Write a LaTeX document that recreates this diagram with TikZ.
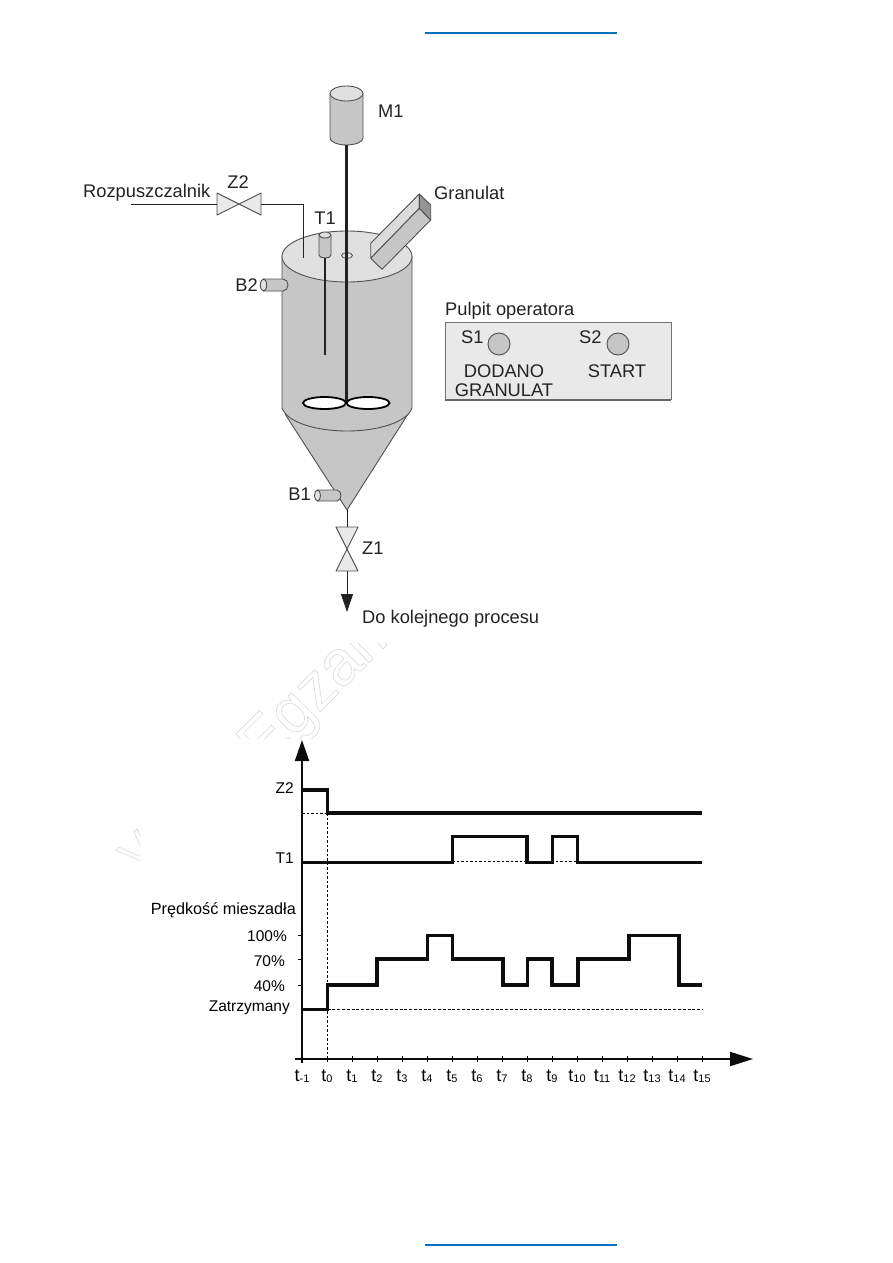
\documentclass[tikz,border=0pt]{standalone}
\usepackage{fontspec}
\setmainfont{Liberation Sans}
\usetikzlibrary{arrows.meta,calc}
\definecolor{bluebar}{HTML}{0070C0}
\definecolor{ink}{HTML}{222222}
\definecolor{edge}{HTML}{505050}
\definecolor{bodyg}{HTML}{C6C6C6}
\definecolor{lidg}{HTML}{E0E0E0}
\definecolor{panelg}{HTML}{E9E9E9}
\definecolor{wm}{HTML}{D4D4D4}
\newcommand{\tlab}[1]{{\fontsize{18}{18}\selectfont t}{\fontsize{11}{11}\selectfont\raisebox{-1.5pt}{#1}}}
\newcommand{\wmtext}[1]{\special{pdf:code 1 Tr 0.5 w}#1\special{pdf:code 0 Tr}}
\tikzset{
  big/.style={font=\fontsize{18.3}{20}\selectfont,text=ink,inner sep=0pt},
  small/.style={font=\fontsize{15.5}{17}\selectfont,text=black,inner sep=0pt},
  part/.style={draw=edge,line width=0.9pt,line join=round},
  pipe/.style={draw=ink,line width=0.9pt},
  rod/.style={draw=ink,line width=2.6pt},
  signal/.style={draw=black!95,line width=3.6pt,line join=miter},
  axisline/.style={draw=black!95,line width=2pt},
  guide/.style={draw=black,line width=0.8pt,dash pattern=on 2.5pt off 2pt},
  bluebarline/.style={draw=bluebar,line width=2pt},
  wmark/.style={font=\fontsize{64}{64}\selectfont,text=wm,inner sep=0pt,rotate=45,anchor=base west},
}
\begin{document}
\begin{tikzpicture}[x=1pt,y=-1pt]
\useasboundingbox (0,0) rectangle (893,1263);
\fill[white] (0,0) rectangle (893,1263);
% header and footer bars
\coordinate (ha) at (425,33); \coordinate (hb) at (617,33);
\coordinate (fa) at (425,1245); \coordinate (fb) at (617,1245);
\draw[bluebarline] (ha) -- (hb);
\draw[bluebarline] (fa) -- (fb);
% watermark
\begin{scope}
\clip (140,643) rectangle (450,738);
\node[wmark] (wma) at (263,769) {\wmtext{Egzam}};
\end{scope}
\begin{scope}
\clip (90,800) rectangle (140,880);
\node[wmark,font=\fontsize{46}{46}\selectfont] (wmb) at (138,873) {\wmtext{V}};
\end{scope}
% motor
\path[part,fill=bodyg] (330,93.5) -- (330,138) .. controls (330,142) and (338,145) .. (346.5,145) .. controls (355,145) and (363,142) .. (363,138) -- (363,93.5) -- cycle;
\path[part,fill=lidg] (346.5,93.5) ellipse [x radius=16.5,y radius=7.5];
\node[big,anchor=west] (m1) at (378,111) {M1};
% cone and tank body
\path[part,fill=bodyg] (285,414) -- (347,510) -- (408,414) -- cycle;
\path[part,fill=bodyg] (282,256) -- (282,408) .. controls (287,422) and (315,431) .. (347,431) .. controls (379,431) and (407,422) .. (412,408) -- (412,256) -- cycle;
% lid
\path[part,fill=lidg] (347,256.5) ellipse [x radius=65,y radius=25.5];
\path[part,fill=lidg,line width=0.8pt] (347,255.5) ellipse [x radius=5.5,y radius=3];
% agitator
\coordinate (motorb) at (346.5,145);
\coordinate (hub) at (346.5,403);
\draw[rod] (motorb) -- (hub);
\path[draw=black,line width=1.8pt,fill=white] (324.5,403) ellipse [x radius=21.5,y radius=6];
\path[draw=black,line width=1.8pt,fill=white] (368,403) ellipse [x radius=21.5,y radius=6];
% T1 sensor
\path[part,fill=bodyg] (319,235) -- (319,255) .. controls (319,257) and (322,258) .. (325,258) .. controls (328,258) and (331,257) .. (331,255) -- (331,235) -- cycle;
\path[part,fill=lidg] (325,235) ellipse [x radius=6,y radius=3];
\coordinate (sensb) at (325,258);
\coordinate (sense) at (325,355);
\draw[rod] (sensb) -- (sense);
\node[big,anchor=center] (t1) at (325,218) {T1};
% granulate chute
\path[part,fill=lidg!80!bodyg] (370.7,243.3) -- (419.3,194) -- (419.3,208.3) -- (370.7,258.3) -- cycle;
\path[part,fill=bodyg] (370.7,258.3) -- (419.3,208.3) -- (430.7,220) -- (382,269.3) -- cycle;
\path[part,fill=black!42] (419.3,194) -- (430.7,205) -- (430.7,220) -- (419.3,208.3) -- cycle;
\node[big,anchor=west] (gran) at (434,193) {Granulat};
% inlet pipe and valve Z2
\path[part,fill=panelg] (217,193) -- (261,215) -- (261,193) -- (217,215) -- cycle;
\coordinate (z2l) at (217,204);
\coordinate (z2r) at (261,204);
\coordinate (inl) at (131,204);
\coordinate (elbow) at (303,204);
\coordinate (inlid) at (303,258);
\draw[pipe] (inl) -- (z2l);
\draw[pipe] (z2r) -- (elbow) -- (inlid);
\node[big,anchor=west] (solv) at (83,193) {Rozpuszczalnik};
\node[big,anchor=center] (z2) at (238,182) {Z2};
% level sensors
\path[part,fill=bodyg] (263.5,279) -- (283,279) .. controls (286,279) and (288,282) .. (288,285) .. controls (288,288) and (286,291) .. (283,291) -- (263.5,291) -- cycle;
\path[part,fill=lidg] (263.5,285) ellipse [x radius=3.2,y radius=6];
\node[big,anchor=east] (b2) at (258,285) {B2};
\path[part,fill=bodyg] (317.5,490) -- (337,490) .. controls (339.5,490) and (341,493) .. (341,495.5) .. controls (341,498) and (339.5,501) .. (337,501) -- (317.5,501) -- cycle;
\path[part,fill=lidg] (317.5,495.5) ellipse [x radius=3,y radius=5.5];
\node[big,anchor=east] (b1) at (311,494) {B1};
% outlet and valve Z1
\coordinate (apex) at (347,510);
\coordinate (z1t) at (347,527);
\coordinate (z1b) at (347,571);
\coordinate (outl) at (347,612);
\path[part,fill=panelg] (336,527) -- (358,527) -- (336,571) -- (358,571) -- cycle;
\draw[pipe] (apex) -- (z1t);
\draw[pipe,-{Triangle[length=18pt,width=12pt]}] (z1b) -- (outl);
\node[big,anchor=west] (z1) at (362,548) {Z1};
\node[big,anchor=west] (next) at (362,619) {Do kolejnego procesu};
% operator panel
\path[fill=panelg,draw=black!55,line width=0.9pt] (445,322) rectangle (671,399.5);
\coordinate (pbl) at (445,399.7); \coordinate (pbr) at (671,399.7);
\draw[draw=black!60,line width=1.6pt] (pbl) -- (pbr);
\node[big,anchor=west] (pult) at (445,311) {Pulpit operatora};
\path[part,fill=bodyg] (499,344) circle [radius=11];
\path[part,fill=bodyg] (618,344) circle [radius=11];
\node[big,anchor=west] (s1) at (461,337) {S1};
\node[big,anchor=west] (s2) at (579,337) {S2};
\node[big,anchor=center] (dod) at (504,371) {DODANO};
\node[big,anchor=center] (gr) at (504,390) {GRANULAT};
\node[big,anchor=center] (st) at (617,371) {START};
% chart guides
\coordinate (g0) at (327.5,813);
\coordinate (g1) at (327.5,1059);
\coordinate (g2) at (302,813);
\coordinate (g3) at (327.5,1009.5);
\coordinate (g4) at (702,1009.5);
\coordinate (g5) at (452,861);
\coordinate (g6) at (577,861);
\draw[guide] (g0) -- (g1);
\draw[guide] (g2) -- (g0);
\draw[guide,line width=1.5pt,dash pattern=on 3pt off 1.8pt] (g3) -- (g4);
\draw[guide] (g5) -- (g6);
% chart axes
\coordinate (ya) at (302,1063);
\coordinate (yb) at (302,740);
\coordinate (xa) at (295,1059);
\coordinate (xb) at (753,1059);
\draw[axisline,-{Triangle[length=21pt,width=14pt]}] (ya) -- (yb);
\draw[axisline,-{Triangle[length=23pt,width=14pt]}] (xa) -- (xb);
\foreach \i in {0,...,16}{
  \draw[line width=1pt] ({302+25*\i},1056) -- ({302+25*\i},1062);
}
\foreach \yy in {935.5,959,985}{
  \draw[line width=1pt] (298,\yy) -- (302,\yy);
}
% signals
\draw[signal] (303,790) -- (327.5,790) -- (327.5,813) -- (702,813);
\draw[signal] (303,862.5) -- (452.5,862.5) -- (452.5,836.5) -- (527,836.5) -- (527,862.5) -- (552.5,862.5) -- (552.5,836.5) -- (577.5,836.5) -- (577.5,862.5) -- (702,862.5);
\draw[signal] (303,1009.5) -- (327.5,1009.5) -- (327.5,985) -- (377,985) -- (377,959) -- (427.5,959) -- (427.5,935.5) -- (452.5,935.5) -- (452.5,959) -- (503,959) -- (503,985) -- (527.5,985) -- (527.5,959) -- (552,959) -- (552,985) -- (578,985) -- (578,959) -- (629,959) -- (629,935.5) -- (679,935.5) -- (679,985) -- (702,985);
% chart labels
\node[small,anchor=east] (lz2) at (294,788) {Z2};
\node[small,anchor=east] (lt1) at (294,858) {T1};
\node[small,anchor=east,font=\fontsize{16.2}{17}\selectfont] (lp) at (296,910) {Prędkość mieszadła};
\node[small,anchor=east] (l100) at (287,936) {100\%};
\node[small,anchor=east] (l70) at (285,961) {70\%};
\node[small,anchor=east] (l40) at (285,986) {40\%};
\node[small,anchor=east] (lzat) at (290,1008) {Zatrzymany};
\foreach \lab [count=\i from 0] in {-1,0,...,15}{
  \node[small,anchor=center] (tl\i) at ({302+25*\i},1076) {\tlab{\lab}};
}
\end{tikzpicture}
\end{document}
